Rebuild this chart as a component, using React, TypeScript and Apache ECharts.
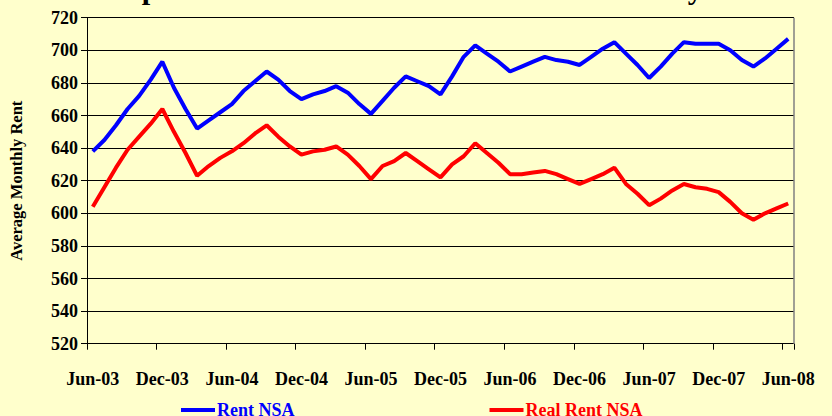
import React, { useEffect, useRef } from "react";
import * as echarts from "echarts";

const months = [
  "Jun-03","Jul-03","Aug-03","Sep-03","Oct-03","Nov-03","Dec-03","Jan-04","Feb-04","Mar-04","Apr-04","May-04",
  "Jun-04","Jul-04","Aug-04","Sep-04","Oct-04","Nov-04","Dec-04","Jan-05","Feb-05","Mar-05","Apr-05","May-05",
  "Jun-05","Jul-05","Aug-05","Sep-05","Oct-05","Nov-05","Dec-05","Jan-06","Feb-06","Mar-06","Apr-06","May-06",
  "Jun-06","Jul-06","Aug-06","Sep-06","Oct-06","Nov-06","Dec-06","Jan-07","Feb-07","Mar-07","Apr-07","May-07",
  "Jun-07","Jul-07","Aug-07","Sep-07","Oct-07","Nov-07","Dec-07","Jan-08","Feb-08","Mar-08","Apr-08","May-08",
  "Jun-08",
];

const rentNSA = [
  638, 645, 654, 664, 672, 682, 693, 677, 664, 652, 657, 662,
  667, 675, 681, 687, 682, 675, 670, 673, 675, 678, 674, 667,
  661, 669, 677, 684, 681, 678, 673, 684, 696, 703, 698, 693,
  687, 690, 693, 696, 694, 693, 691, 696, 701, 705, 698, 691,
  683, 690, 698, 705, 704, 704, 704, 700, 694, 690, 695, 701,
  707,
];

const realRentNSA = [
  604, 616, 628, 639, 647, 655, 664, 650, 637, 623, 629, 634,
  638, 643, 649, 654, 647, 641, 636, 638, 639, 641, 636, 629,
  621, 629, 632, 637, 632, 627, 622, 630, 635, 643, 637, 631,
  624, 624, 625, 626, 624, 621, 618, 621, 624, 628, 618, 612,
  605, 609, 614, 618, 616, 615, 613, 607, 600, 596, 600, 603,
  606,
];

const yMin = 520;
const yMax = 720;
const yStep = 20;

const titleText = "Apartment Rents Nominal and Real Monthly";
const yName = "Average Monthly Rent";
const seriesNames = ["Rent NSA", "Real Rent NSA"];

const serif = "'Liberation Serif', 'Times New Roman', serif";

export default function App() {
  const ref = useRef<HTMLDivElement>(null);
  useEffect(() => {
    if (!ref.current) return;
    const chart = echarts.init(ref.current, undefined, { renderer: "svg" });
    const gridTop = 17.7;
    const gridBottom = 72.3;
    const gridLeft = 85;
    const gridRight = 38;
    chart.setOption({
      animation: false,
      backgroundColor: "#FFFFCC",
      grid: { left: gridLeft, right: gridRight, top: gridTop, bottom: gridBottom },
      legend: {
        left: 176,
        top: 396,
        itemGap: 195,
        itemWidth: 34,
        itemHeight: 4,
        icon: "rect",
        data: [
          { name: seriesNames[0], textStyle: { color: "#0000FF" } },
          { name: seriesNames[1], textStyle: { color: "#FF0000" } },
        ],
        textStyle: { fontFamily: serif, fontWeight: "bold", fontSize: 18, padding: [0, 0, 0, -3] },
      },
      xAxis: {
        type: "category",
        data: months,
        boundaryGap: true,
        axisLine: { show: true, lineStyle: { color: "#000", width: 1 } },
        axisTick: { show: true, interval: 5, length: 6, lineStyle: { color: "#000" } },
        axisLabel: {
          interval: 5,
          margin: 26,
          color: "#000",
          fontFamily: serif,
          fontWeight: "bold",
          fontSize: 18,
        },
        splitLine: { show: false },
      },
      yAxis: {
        type: "value",
        min: yMin,
        max: yMax,
        interval: yStep,
        name: yName,
        nameLocation: "middle",
        nameGap: 62,
        nameTextStyle: { fontFamily: serif, fontWeight: "bold", fontSize: 16.5, color: "#000" },
        axisLine: { show: true, lineStyle: { color: "#000", width: 1 } },
        axisTick: { show: true, length: 6, lineStyle: { color: "#000" } },
        axisLabel: {
          margin: 9,
          color: "#000",
          fontFamily: serif,
          fontWeight: "bold",
          fontSize: 18,
        },
        splitLine: { show: true, lineStyle: { color: "#000", width: 1 } },
      },
      graphic: [
        {
          type: "line",
          shape: { x1: 832 - gridRight, y1: gridTop, x2: 832 - gridRight, y2: 416 - gridBottom },
          style: { stroke: "#808080", lineWidth: 1.5 },
          z: 10,
        },
        {
          type: "text",
          left: 120,
          top: -26,
          style: {
            text: titleText,
            fontFamily: serif,
            fontWeight: "bold",
            fontSize: 30.2,
            fill: "#000",
          },
        },
      ],
      series: [
        {
          name: seriesNames[0],
          type: "line",
          data: rentNSA,
          symbol: "none",
          lineStyle: { color: "#0000FF", width: 4 },
          itemStyle: { color: "#0000FF" },
        },
        {
          name: seriesNames[1],
          type: "line",
          data: realRentNSA,
          symbol: "none",
          lineStyle: { color: "#FF0000", width: 4 },
          itemStyle: { color: "#FF0000" },
        },
      ],
    });
    return () => chart.dispose();
  }, []);
  return (
    <div
      ref={ref}
      style={{ position: "fixed", left: 0, top: 0, width: 832, height: 416 }}
    />
  );
}
